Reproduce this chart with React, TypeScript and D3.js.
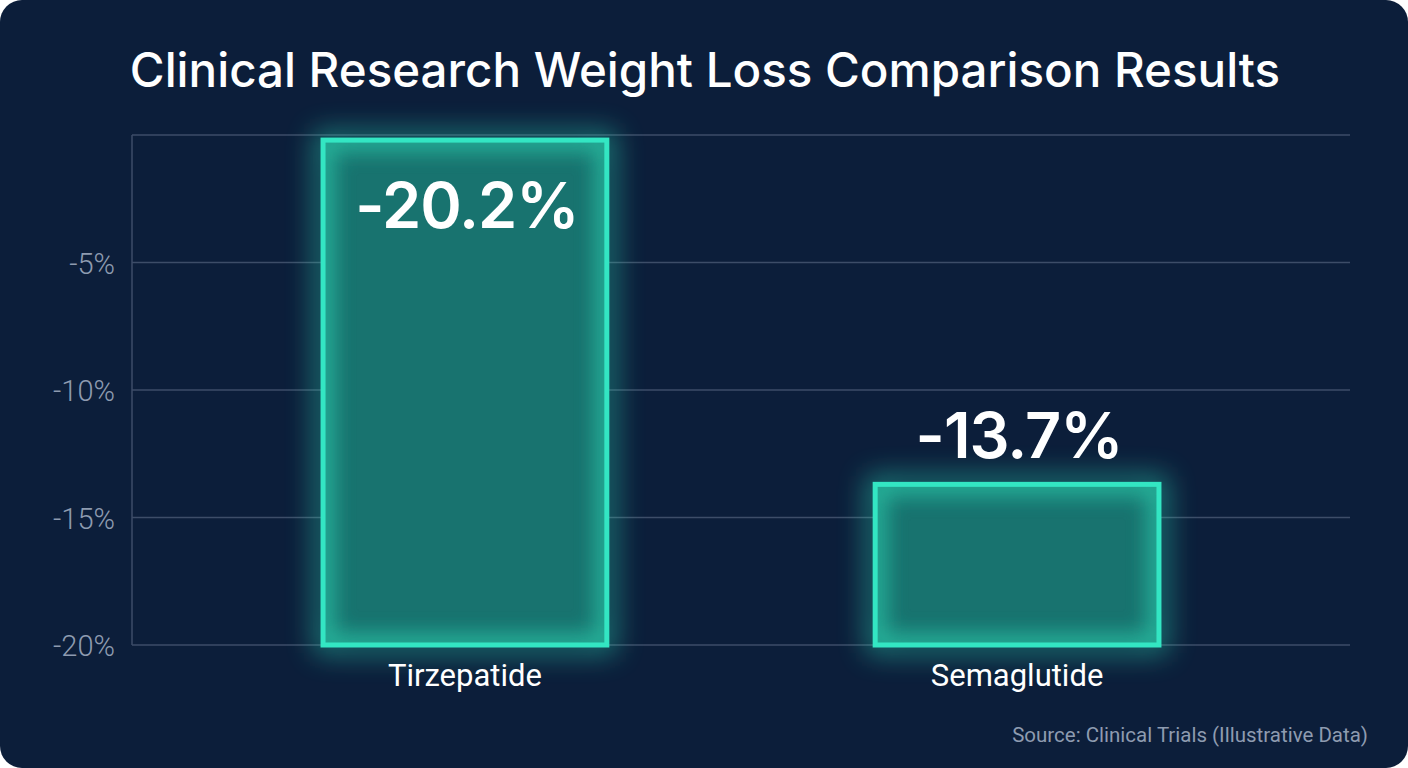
import React from 'react';
import * as d3 from 'd3';

const categories = ['Tirzepatide', 'Semaglutide'];
const reported = [-20.2, -13.7];
// where each bar's top edge sits on the axis, as drawn in the source picture
const barTops = [-0.2, -13.7];
const yTicks = [-5, -10, -15, -20];

const W = 1408;
const H = 768;
const margin = { top: 135, right: 58, bottom: 123, left: 132 };

const App = () => {
  const x = d3
    .scaleBand<string>()
    .domain(categories)
    .range([margin.left, W - margin.right])
    .paddingInner(0.486)
    .paddingOuter(0.346);
  const y = d3.scaleLinear().domain([-20, 0]).range([H - margin.bottom, margin.top]);
  const base = y(-20);

  return (
    <div style={{ position: 'fixed', left: 0, top: 0 }}>
      <svg width={W} height={H} style={{ display: 'block', background: '#fff' }}>
        <defs>
          <filter id="glow" x="-30%" y="-30%" width="160%" height="160%">
            <feGaussianBlur stdDeviation="14" />
          </filter>
          <filter id="inner" x="-10%" y="-10%" width="120%" height="120%">
            <feGaussianBlur stdDeviation="10" />
          </filter>
          {categories.map((c, i) => (
            <clipPath id={`clip${i}`} key={c}>
              <rect
                x={x(c)}
                y={y(barTops[i])}
                width={x.bandwidth()}
                height={base - y(barTops[i])}
              />
            </clipPath>
          ))}
        </defs>
        <rect x={0} y={0} width={W} height={H} rx={22} fill="#0c1e3a" />

        <text
          x={705}
          y={87}
          textAnchor="middle"
          fill="#ffffff"
          fontFamily="Inter, sans-serif"
          fontWeight={500}
          fontSize={47.5}
        >
          Clinical Research Weight Loss Comparison Results
        </text>

        {/* grid */}
        {[0, ...yTicks].map((t) => (
          <line
            key={t}
            x1={margin.left}
            x2={W - margin.right}
            y1={y(t)}
            y2={y(t)}
            stroke="#3d4d68"
            strokeWidth={1.5}
          />
        ))}
        <line x1={margin.left} x2={margin.left} y1={y(0)} y2={base} stroke="#3d4d68" strokeWidth={1.5} />
        {yTicks.map((t) => (
          <text
            key={t}
            x={115}
            y={y(t) + 11}
            textAnchor="end"
            fill="#8e9bb0"
            fontFamily="Roboto, sans-serif"
            fontWeight={300}
            fontSize={29}
          >
            {`${t}%`}
          </text>
        ))}

        {/* bars */}
        {categories.map((c, i) => {
          const bx = x(c) as number;
          const by = y(barTops[i]);
          const bw = x.bandwidth();
          const bh = base - by;
          const inside = by - 90 < margin.top;
          return (
            <g key={c}>
              <rect x={bx} y={by} width={bw} height={bh} fill="none" stroke="#2ee6c0" strokeWidth={16} opacity={0.55} filter="url(#glow)" />
              <rect x={bx} y={by} width={bw} height={bh} fill="#18736f" />
              <g clipPath={`url(#clip${i})`}>
                <rect x={bx} y={by} width={bw} height={bh} fill="none" stroke="#2bc7a8" strokeWidth={24} opacity={0.7} filter="url(#inner)" />
              </g>
              <rect x={bx} y={by} width={bw} height={bh} fill="none" stroke="#33e6c3" strokeWidth={5} />
              <text
                x={bx + bw / 2 + 2}
                y={inside ? by + 88 : by - 26}
                textAnchor="middle"
                fill="#ffffff"
                fontFamily="Inter, sans-serif"
                fontWeight={600}
                fontSize={63}
                letterSpacing={-1}
              >
                {`${reported[i]}%`}
              </text>
              <text
                x={bx + bw / 2}
                y={base + 41}
                textAnchor="middle"
                fill="#ffffff"
                fontFamily="Roboto, sans-serif"
                fontSize={31}
              >
                {c}
              </text>
            </g>
          );
        })}

        <text
          x={1368}
          y={742}
          textAnchor="end"
          fill="#8e9bb0"
          fontFamily="Roboto, sans-serif"
          fontSize={20.5}
        >
          Source: Clinical Trials (Illustrative Data)
        </text>
      </svg>
    </div>
  );
};

export default App;
